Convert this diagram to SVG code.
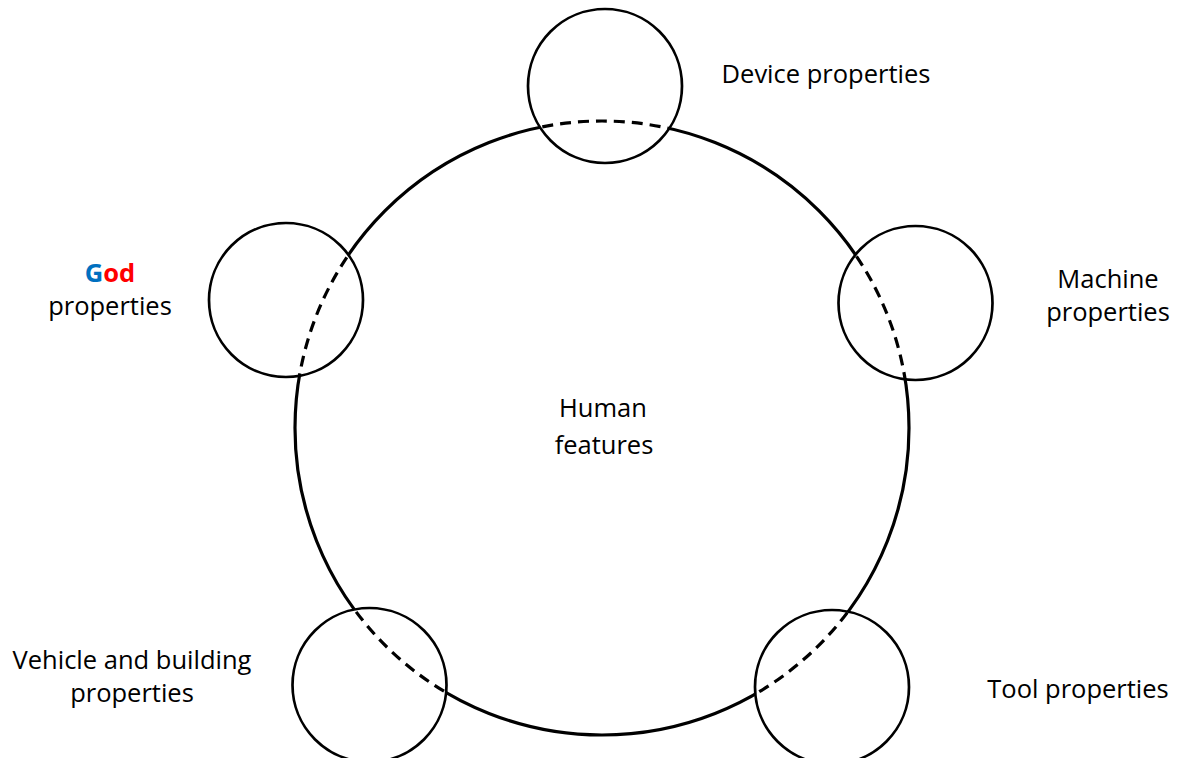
<svg xmlns="http://www.w3.org/2000/svg" width="1180" height="758" viewBox="0 0 1180 758">
  <style>
    .lbl { font-family: "Open Sans", "Liberation Sans", sans-serif; font-size: 25.5px; fill: #000; text-anchor: middle; }
    .small { fill: none; stroke: #000; stroke-width: 2.7; }
    .big { fill: none; stroke: #000; stroke-width: 3.2; }
    .dash { stroke-dasharray: 11 7; }
  </style>
  <defs>
    <clipPath id="inside">
      <circle cx="605" cy="86" r="77"/>
      <circle cx="286" cy="300" r="77"/>
      <circle cx="915.5" cy="303" r="77"/>
      <circle cx="369.5" cy="685" r="77"/>
      <circle cx="832" cy="687" r="77"/>
    </clipPath>
    <mask id="outside">
      <rect x="0" y="0" width="1180" height="758" fill="#fff"/>
      <circle cx="605" cy="86" r="77" fill="#000"/>
      <circle cx="286" cy="300" r="77" fill="#000"/>
      <circle cx="915.5" cy="303" r="77" fill="#000"/>
      <circle cx="369.5" cy="685" r="77" fill="#000"/>
      <circle cx="832" cy="687" r="77" fill="#000"/>
    </mask>
  </defs>
  <rect x="0" y="0" width="1180" height="758" fill="#fff"/>

  <g id="human">
    <circle class="big" cx="602" cy="428" r="307" mask="url(#outside)"/>
    <text class="lbl" x="603" y="417">Human</text>
    <text class="lbl" x="604" y="454">features</text>
  </g>

  <g id="connectors">
    <circle class="big dash" cx="602" cy="428" r="307" clip-path="url(#inside)"/>
  </g>

  <g id="device">
    <circle class="small" cx="605" cy="86" r="77"/>
    <text class="lbl" x="826" y="83">Device properties</text>
  </g>

  <g id="god">
    <circle class="small" cx="286" cy="300" r="77"/>
    <text class="lbl" x="110" y="282" font-weight="bold"><tspan fill="#0070C0">G</tspan><tspan fill="#FF0000">od</tspan></text>
    <text class="lbl" x="110" y="315">properties</text>
  </g>

  <g id="machine">
    <circle class="small" cx="915.5" cy="303" r="77"/>
    <text class="lbl" x="1108" y="288">Machine</text>
    <text class="lbl" x="1108" y="321">properties</text>
  </g>

  <g id="vehicle">
    <circle class="small" cx="369.5" cy="685" r="77"/>
    <text class="lbl" x="132" y="669">Vehicle and building</text>
    <text class="lbl" x="132" y="702">properties</text>
  </g>

  <g id="tool">
    <circle class="small" cx="832" cy="687" r="77"/>
    <text class="lbl" x="1078" y="698">Tool properties</text>
  </g>
</svg>
